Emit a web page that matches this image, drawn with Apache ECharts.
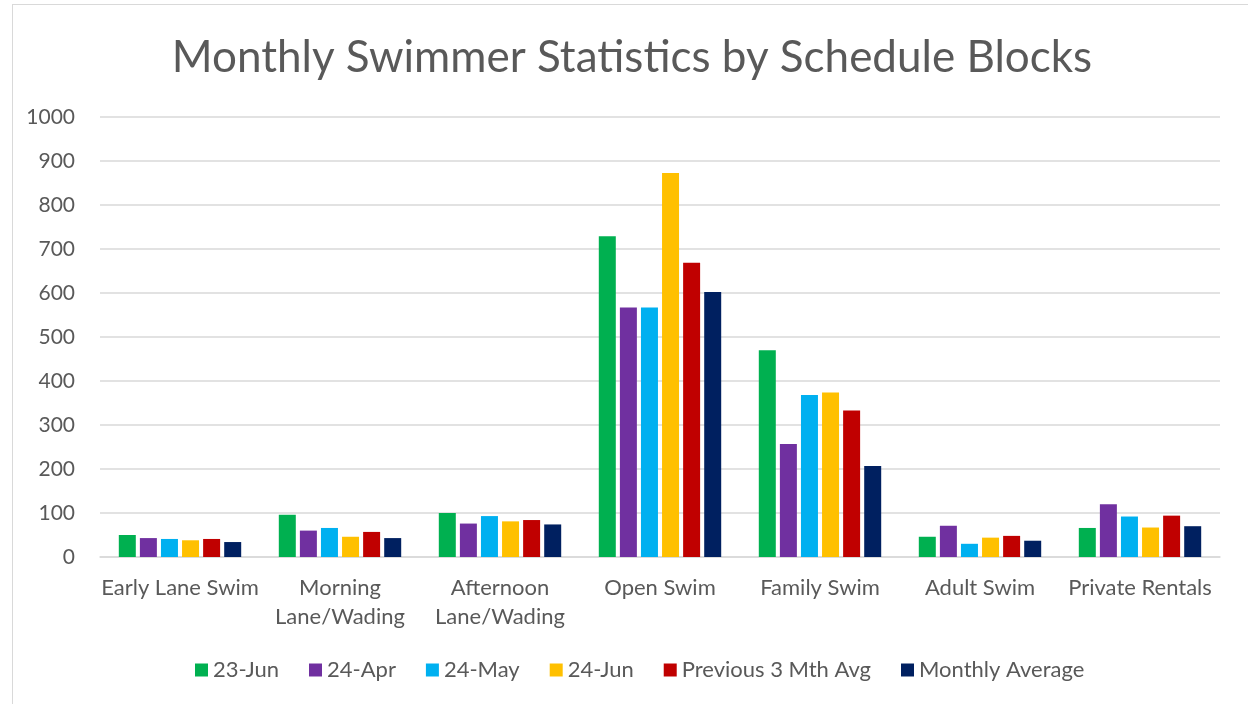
<!DOCTYPE html>
<html>
<head>
<meta charset="utf-8">
<script src="https://cdn.jsdelivr.net/npm/echarts@6/dist/echarts.min.js"></script>
<style>
  html, body { margin: 0; padding: 0; background: #fff; }
  #wrap { position: absolute; left: 12px; top: 4px; width: 1240px; height: 704px; border: 1px solid #d9d9d9; box-sizing: border-box; }
  #main { position: absolute; left: 0; top: 0; width: 1248px; height: 704px; }
</style>
</head>
<body>
<div id="wrap"></div>
<div id="main"></div>
<script>
  // categories and series values
  var categories = ['Early Lane Swim', 'Morning\nLane/Wading', 'Afternoon\nLane/Wading', 'Open Swim', 'Family Swim', 'Adult Swim', 'Private Rentals'];
  var seriesNames = ['23-Jun', '24-Apr', '24-May', '24-Jun', 'Previous 3 Mth Avg', 'Monthly Average'];
  var jun23 = [50, 96, 100, 729, 470, 46, 66];
  var apr24 = [43, 60, 76, 567, 257, 71, 120];
  var may24 = [41, 66, 93, 567, 368, 30, 92];
  var jun24 = [38, 46, 81, 873, 374, 44, 67];
  var prev3 = [41, 57, 84, 669, 333, 48, 94];
  var monthlyAvg = [34, 43, 74, 602, 207, 37, 70];
  var colors = ['#00b050', '#7030a0', '#00b0f0', '#ffc000', '#c00000', '#002060'];

  var allData = [jun23, apr24, may24, jun24, prev3, monthlyAvg];
  var textColor = '#595959';
  var font = 'Lato, "Open Sans", sans-serif';

  var series = [];
  for (var i = 0; i < seriesNames.length; i++) {
    series.push({
      name: seriesNames[i],
      type: 'bar',
      barWidth: 17,
      barGap: '24%',
      itemStyle: { color: colors[i] },
      data: allData[i]
    });
  }

  var myChart = echarts.init(document.getElementById('main'));
  var option = {
    animation: false,
    textStyle: { fontFamily: font },
    title: {
      text: 'Monthly Swimmer Statistics by Schedule Blocks',
      left: 627,
      top: 31,
      textAlign: 'center',
      textStyle: { color: textColor, fontSize: 44, fontWeight: 'normal', fontFamily: font }
    },
    legend: {
      data: seriesNames,
      bottom: 18,
      left: 190,
      itemWidth: 13,
      itemHeight: 13,
      itemGap: 30,
      icon: 'rect',
      textStyle: { color: textColor, fontSize: 22, fontFamily: font }
    },
    grid: { left: 100, right: 28, top: 117, bottom: 147, containLabel: false },
    xAxis: {
      type: 'category',
      data: categories,
      axisLine: { lineStyle: { color: '#d9d9d9', width: 1.5 } },
      axisTick: { show: false },
      axisLabel: { color: textColor, fontSize: 22, lineHeight: 29, margin: 16, interval: 0, fontFamily: font }
    },
    yAxis: {
      type: 'value',
      min: 0,
      max: 1000,
      interval: 100,
      axisLine: { show: false },
      axisTick: { show: false },
      splitLine: { lineStyle: { color: '#d9d9d9', width: 1.5 } },
      axisLabel: { color: textColor, fontSize: 21, margin: 25, fontFamily: font, formatter: function (v) { return String(v); } }
    },
    series: series
  };
  myChart.setOption(option);
</script>
</body>
</html>
